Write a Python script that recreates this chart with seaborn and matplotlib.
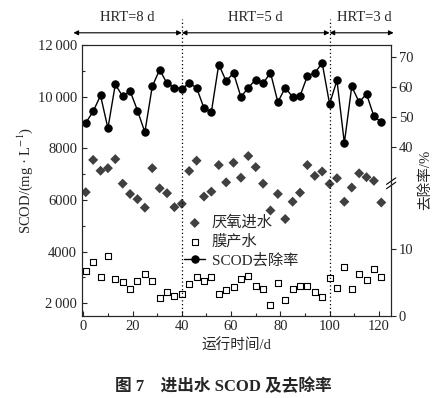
import numpy as np
import pandas as pd
import matplotlib
matplotlib.use('Agg')
import matplotlib.pyplot as plt
import matplotlib.transforms as mtransforms
from matplotlib.ticker import MultipleLocator, FixedLocator
import seaborn as sns

# ---- data ----
days = [1, 4, 7, 10, 13, 16, 19, 22, 25, 28, 31, 34, 37, 40, 43, 46, 49, 52, 55, 58,
        61, 64, 67, 70, 73, 76, 79, 82, 85, 88, 91, 94, 97, 100, 103, 106, 109, 112,
        115, 118, 121]
influent = [6300, 7550, 7130, 7230, 7580, 6630, 6230, 6030, 5700, 7230, 6450, 6260, 5720,
            5850, 7120, 7520, 6130, 6320, 7350, 6680, 7440, 6860, 7700, 7270, 6630, 5590,
            6230, 5260, 5930, 6280, 7350, 6930, 7100, 6620, 6840, 5930, 6480, 7030, 6880,
            6740, 5900]
effluent = [3250, 3610, 3030, 3840, 2930, 2840, 2550, 2860, 3120, 2860, 2190, 2430, 2290,
            2350, 2750, 3030, 2860, 3030, 2360, 2530, 2610, 2940, 3060, 2680, 2540, 1950,
            2800, 2110, 2540, 2670, 2650, 2440, 2260, 2990, 2570, 3420, 2550, 3120, 2900,
            3320, 3030]
removal = [48.1, 51.9, 57.2, 46.3, 60.9, 56.9, 58.7, 52.2, 45.0, 60.2, 65.8, 61.2, 59.8,
           59.5, 61.2, 59.8, 53.0, 51.7, 67.5, 62.0, 64.7, 56.7, 59.8, 62.5, 61.2, 64.8,
           55.0, 59.8, 56.7, 57.0, 63.7, 64.7, 68.0, 54.4, 62.2, 41.4, 60.2, 55.0, 57.7,
           50.3, 48.3]
labels = ['厌氧进水', '膜产水', 'SCOD去除率']
hrt_labels = ['HRT=8 d', 'HRT=5 d', 'HRT=3 d']
hrt_bounds = [-4, 40, 100, 126]
left_ticks = [2000, 4000, 6000, 8000, 10000, 12000]
left_ticklabels = ['2\u2009000', '4000', '6000', '8000', '10\u2009000', '12\u2009000']
right_ticks = [0, 10, 40, 50, 60, 70]

df = pd.DataFrame({'day': days, 'inf': influent, 'eff': effluent, 'rem': removal})

sns.set_style('ticks')
plt.rcParams['font.family'] = ['Liberation Serif', 'Noto Sans CJK SC', 'DejaVu Sans']
plt.rcParams['mathtext.fontset'] = 'stix'
plt.rcParams['font.size'] = 10.5

fig = plt.figure(figsize=(4.46, 3.98), dpi=100)
ax = fig.add_axes([0.184, 0.207, 0.693, 0.680])

sns.scatterplot(data=df, x='day', y='inf', marker='D', s=26, color='#404040',
                edgecolor='none', label=labels[0], legend=False, ax=ax)
sns.scatterplot(data=df, x='day', y='eff', marker='s', s=18, facecolor='white',
                edgecolor='black', linewidth=0.8, label=labels[1], legend=False, ax=ax)

ax.set_xlim(-0.5, 125)
ax.set_ylim(1520, 12000)
ax.set_yticks(left_ticks)
ax.set_yticklabels(left_ticklabels)
ax.yaxis.set_minor_locator(MultipleLocator(1000))
ax.xaxis.set_major_locator(MultipleLocator(20))
ax.xaxis.set_minor_locator(MultipleLocator(10))
ax.tick_params(which='both', direction='in', top=False, right=False)
ax.tick_params(which='major', length=3.5, width=0.8)
ax.tick_params(which='minor', length=2, width=0.8)
ax.set_xlabel('运行时间/d', fontsize=10.5)
ax.set_ylabel('SCOD/(mg · L$^{-1}$)', fontsize=10.5, labelpad=2)
for s in ax.spines.values():
    s.set_linewidth(0.8)

# right axis with broken scale: 0-20 lower part, 28-74 upper part
def fwd(v):
    v = np.asarray(v, dtype=float)
    return np.where(v <= 20, v * 6.6, 132 + np.clip(v - 28, 0, None) * 3)

def inv(y):
    y = np.asarray(y, dtype=float)
    return np.where(y <= 132, y / 6.6, 28 + (y - 132) / 3)

ax2 = ax.twinx()
ax2.set_yscale('function', functions=(fwd, inv))
sns.lineplot(data=df, x='day', y='rem', marker='o', markersize=5.3, color='black',
             linewidth=1, markeredgecolor='black', label=labels[2], legend=False, ax=ax2)
ax2.set_ylim(0, 74)
ax2.yaxis.set_major_locator(FixedLocator(right_ticks))
ax2.set_yticklabels([str(t) for t in right_ticks])
ax2.yaxis.set_minor_locator(FixedLocator([]))
ax2.tick_params(direction='out', length=3.5, width=0.8, pad=2)
ax2.set_ylabel('去除率/%', fontsize=10.5, labelpad=4)
ax2.set_xlabel('')
for s in ax2.spines.values():
    s.set_linewidth(0.8)

# break mark on the right spine
yb = fwd(24) / fwd(74)
for dy in (-0.008, 0.008):
    ax2.plot([0.985, 1.015], [yb + dy - 0.012, yb + dy + 0.012], transform=ax2.transAxes,
             color='black', lw=0.8, clip_on=False)

# HRT phases
trans = mtransforms.blended_transform_factory(ax.transData, ax.transAxes)
for xv in hrt_bounds[1:3]:
    ax.plot([xv, xv], [0, 1.095], transform=trans, ls=(0, (1, 2)), color='black',
            lw=0.9, clip_on=False)
for i, lab in enumerate(hrt_labels):
    a, b = hrt_bounds[i], hrt_bounds[i + 1]
    ax.annotate('', xy=(a, 1.045), xytext=(b, 1.045), xycoords=trans, textcoords=trans,
                arrowprops=dict(arrowstyle='<|-|>', color='black', lw=0.8,
                                mutation_scale=7, shrinkA=0, shrinkB=0))
    ax.text((a + b) / 2 + (1 if i == 2 else 0), 1.1, lab, transform=trans,
            ha='center', va='center', fontsize=10.5)

# legend
h1, l1 = ax.get_legend_handles_labels()
h2, l2 = ax2.get_legend_handles_labels()
ax.legend(h1 + h2, l1 + l2, loc='upper left', bbox_to_anchor=(0.33, 0.37),
          frameon=False, fontsize=11, handlelength=1.4, handletextpad=0.4,
          labelspacing=0.3, borderaxespad=0, borderpad=0)

fig.text(0.5, 0.028, '图 7    进出水 SCOD 及去除率', ha='center', va='center',
         fontsize=12, fontweight='bold')

plt.savefig('out.png', dpi=100)
